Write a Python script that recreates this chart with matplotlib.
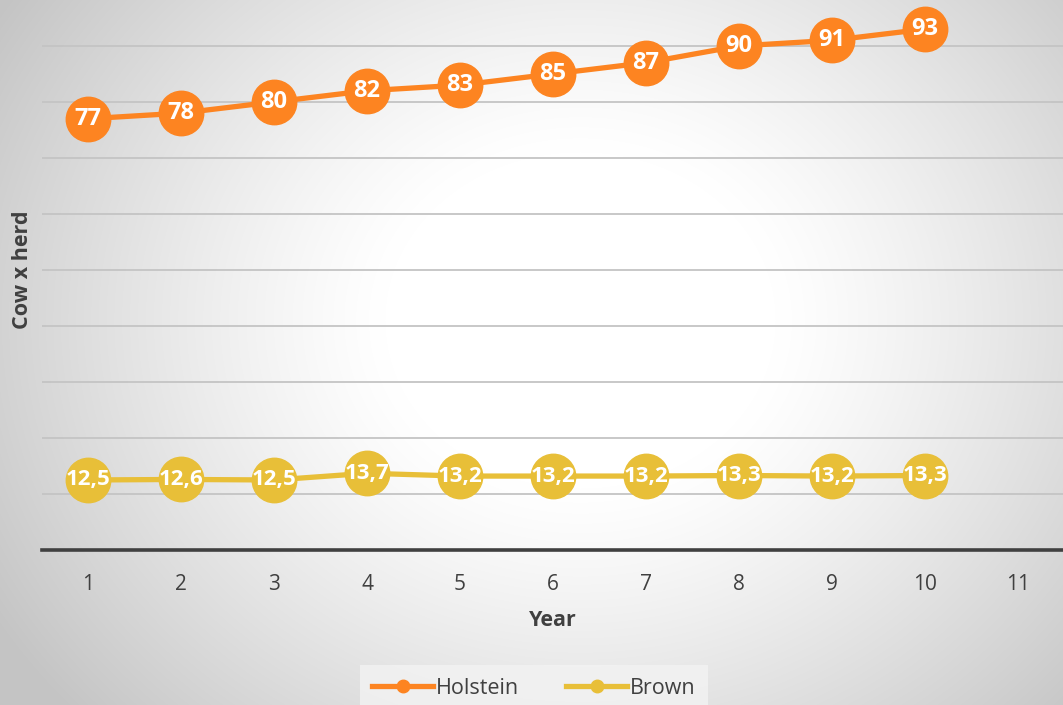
import numpy as np
import matplotlib.pyplot as plt
from matplotlib.lines import Line2D

years = [1, 2, 3, 4, 5, 6, 7, 8, 9, 10]
holstein = [77, 78, 80, 82, 83, 85, 87, 90, 91, 93]
brown = [12.5, 12.6, 12.5, 13.7, 13.2, 13.2, 13.2, 13.3, 13.2, 13.3]
xticks = list(range(1, 12))

orange = "#fd8421"
yellow = "#e8bf38"
grey_txt = "#404040"

plt.rcParams['font.family'] = ['Open Sans', 'DejaVu Sans']

fig = plt.figure(figsize=(10.63, 7.05), dpi=100)

# radial gradient background
bg = fig.add_axes([0, 0, 1, 1], zorder=0)
yy, xx = np.mgrid[0:705, 0:1063]
r = np.sqrt(((xx - 580) / 650.0) ** 2 + ((yy - 320) / 560.0) ** 2)
val = 1 - 0.23 * np.clip((r - 0.3) / 0.75, 0, 1) ** 1.2
bg.imshow(np.dstack([val, val, val]), aspect='auto', extent=[0, 1, 0, 1])
bg.axis('off')

ax = fig.add_axes([41.5 / 1063, 155 / 705, 1023 / 1063, 550 / 705], zorder=1)
ax.patch.set_alpha(0)

ax.plot(years, holstein, color=orange, lw=3.8, marker='o', ms=32, zorder=3)
ax.plot(years, brown, color=yellow, lw=3.8, marker='o', ms=32, zorder=3)

for x, v in zip(years, holstein):
    ax.text(x, v, str(v), color='white', fontsize=17, fontweight='bold',
            ha='center', va='center', zorder=4)
for x, v in zip(years, brown):
    ax.text(x, v, f"{v:.1f}".replace('.', ','), color='white', fontsize=16,
            fontweight='bold', ha='center', va='center', zorder=4)

ax.set_xlim(0.5, 11.5)
ax.set_ylim(0, 98.2)
ax.set_xticks(xticks)
ax.set_yticks(range(10, 100, 10))
ax.set_yticklabels([])
ax.tick_params(axis='y', length=0)
ax.tick_params(axis='x', length=0, labelsize=15, labelcolor=grey_txt, pad=17)
ax.grid(axis='y', color='#c4c4c4', lw=1.3)
ax.set_axisbelow(True)
for s in ['top', 'right', 'left']:
    ax.spines[s].set_visible(False)
ax.spines['bottom'].set_color('#404040')
ax.spines['bottom'].set_linewidth(2.6)

ax.set_xlabel('Year', fontsize=15.5, fontweight='bold', color=grey_txt, labelpad=11)
fig.text(22 / 1063, 1 - 270 / 705, 'Cow x herd', rotation=90, fontsize=15.5,
         fontweight='bold', color=grey_txt, ha='center', va='center')

handles = [Line2D([], [], color=orange, lw=3.8, marker='o', ms=9),
           Line2D([], [], color=yellow, lw=3.8, marker='o', ms=9)]
leg = fig.legend(handles, ['Holstein', 'Brown'], loc='lower center',
                 bbox_to_anchor=(534 / 1063, -0.025), ncol=2, frameon=True,
                 fontsize=15.5, handlelength=2.8, handletextpad=0.15,
                 columnspacing=2.2, borderpad=0.6, borderaxespad=0.5,
                 fancybox=False)
leg.get_frame().set_facecolor('#f3f3f3')
leg.get_frame().set_edgecolor('none')
for t in leg.get_texts():
    t.set_color(grey_txt)

fig.savefig('out.png', dpi=100)
